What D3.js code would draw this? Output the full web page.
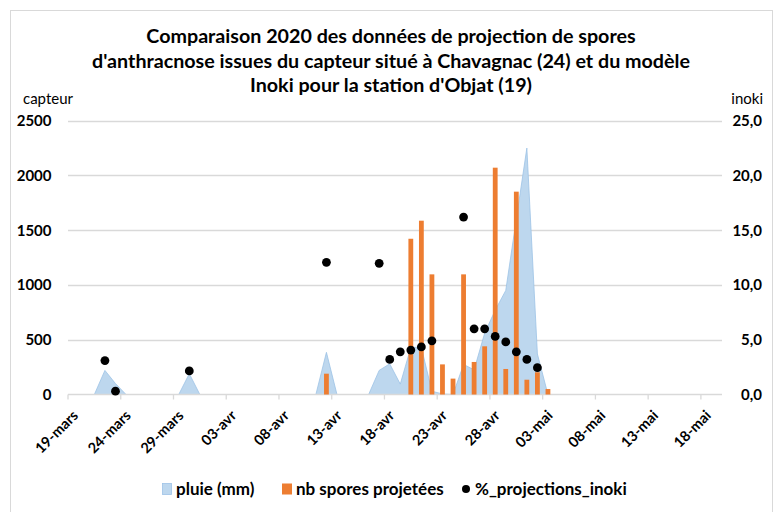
<!DOCTYPE html>
<html>
<head>
<meta charset="utf-8">
<script src="https://cdn.jsdelivr.net/npm/d3@7"></script>
<style>
  body { margin: 0; background: #fff; }
  text { font-family: Lato, "Open Sans", sans-serif; fill: #000; }
</style>
</head>
<body>
<div class="container"></div>
<script>
(function(d3) {
  "use strict";

  var titleLines = [
    "Comparaison 2020 des données de projection de spores",
    "d'anthracnose issues du capteur situé à Chavagnac (24) et du modèle",
    "Inoki pour la station d'Objat (19)"
  ];

  // pluie (mm), one value per day starting 19-mars
  var pluieStart = "2020-03-19";
  var pluieValues = [
    0, 0, 0, 2.2, 1.0, 0, 0, 0, 0, 0,
    0, 1.9, 0, 0, 0, 0, 0, 0, 0, 0,
    0, 0, 0, 0, 3.85, 0, 0, 0, 0, 2.2,
    2.8, 0.95, 4.3, 4.3, 0.3, 0.05, 0, 2.75, 2.25, 5.6,
    7.7, 9.5, 16.0, 22.5, 3.7, 0
  ];

  var sporeDates = [
    "2020-04-12", "2020-04-20", "2020-04-21", "2020-04-22", "2020-04-23",
    "2020-04-24", "2020-04-25", "2020-04-26", "2020-04-27", "2020-04-28",
    "2020-04-29", "2020-04-30", "2020-05-01", "2020-05-02", "2020-05-03"
  ];
  var sporeValues = [190, 1422, 1587, 1097, 275, 145, 1097, 297, 440, 2071, 233, 1852, 135, 203, 50];

  var inokiDates = [
    "2020-03-22", "2020-03-23", "2020-03-30", "2020-04-12", "2020-04-17",
    "2020-04-18", "2020-04-19", "2020-04-20", "2020-04-21", "2020-04-22",
    "2020-04-25", "2020-04-26", "2020-04-27", "2020-04-28", "2020-04-29",
    "2020-04-30", "2020-05-01", "2020-05-02"
  ];
  var inokiValues = [3.1, 0.3, 2.15, 12.07, 11.98, 3.2, 3.9, 4.06, 4.34, 4.9, 16.2, 6.0, 6.0, 5.3, 4.8, 3.9, 3.2, 2.45];

  var xTickLabels = ["19-mars", "24-mars", "29-mars", "03-avr", "08-avr", "13-avr", "18-avr",
                     "23-avr", "28-avr", "03-mai", "08-mai", "13-mai", "18-mai"];
  var leftTicks = [0, 500, 1000, 1500, 2000, 2500];
  var rightTicks = [0, 5, 10, 15, 20, 25];

  var legendItems = ["pluie (mm)", "nb spores projetées", "%_projections_inoki"];

  var width = 779, height = 512;
  var plot = { left: 68, right: 722, top: 120.7, bottom: 394.5 };

  var parse = d3.utcParse("%Y-%m-%d");
  var start = parse("2020-03-19");
  var end = d3.utcDay.offset(start, 62);

  var x = d3.scaleUtc().domain([start, end]).range([plot.left, plot.right]);
  var dayW = x(d3.utcDay.offset(start, 1)) - x(start);
  var yL = d3.scaleLinear().domain([0, 2500]).range([plot.bottom, plot.top]);
  var yR = d3.scaleLinear().domain([0, 25]).range([plot.bottom, plot.top]);

  function center(date) { return x(date) + dayW / 2; }

  var svg = d3.select(".container").append("svg")
      .attr("width", width)
      .attr("height", height);

  svg.append("rect")
      .attr("x", 10.5).attr("y", 10.5)
      .attr("width", 762).attr("height", 520)
      .attr("fill", "#fff")
      .attr("stroke", "#d9d9d9");

  // title, sized so the longest line matches the picture
  var title = svg.append("g").attr("class", "title");
  var titleText = title.selectAll("text")
      .data(titleLines)
    .enter().append("text")
      .attr("x", 391)
      .attr("y", function(d, i) { return 43 + i * 24.5; })
      .attr("text-anchor", "middle")
      .style("font-weight", "bold")
      .style("font-size", "18px")
      .text(function(d) { return d; });
  var w2 = titleText.nodes()[1].getComputedTextLength();
  titleText.style("font-size", (18 * 598 / w2) + "px");

  // grid lines
  svg.append("g")
    .selectAll("line")
      .data(leftTicks.slice(1))
    .enter().append("line")
      .attr("x1", plot.left).attr("x2", plot.right)
      .attr("y1", function(d) { return Math.round(yL(d)) + 0.5; })
      .attr("y2", function(d) { return Math.round(yL(d)) + 0.5; })
      .attr("stroke", "#d9d9d9")
      .attr("stroke-width", 1.3);

  // pluie area
  var pluie = pluieValues.map(function(v, i) {
    return { date: d3.utcDay.offset(parse(pluieStart), i), value: v };
  });
  var area = d3.area()
      .x(function(d) { return center(d.date); })
      .y0(yR(0))
      .y1(function(d) { return yR(d.value); });
  svg.append("path")
      .datum(pluie)
      .attr("d", area)
      .attr("fill", "#bdd7ee")
      .attr("stroke", "#9dc3e6")
      .attr("stroke-width", 0.8);

  // x axis
  var xAxisG = svg.append("g").attr("class", "x-axis");
  xAxisG.append("line")
      .attr("x1", plot.left).attr("x2", plot.right)
      .attr("y1", plot.bottom).attr("y2", plot.bottom)
      .attr("stroke", "#d9d9d9").attr("stroke-width", 1.3);
  var xTicks = xAxisG.selectAll(".tick")
      .data(xTickLabels)
    .enter().append("g")
      .attr("class", "tick")
      .attr("transform", function(d, i) {
        return "translate(" + x(d3.utcDay.offset(start, i * 5)) + "," + plot.bottom + ")";
      });
  xTicks.append("line")
      .attr("y2", 5)
      .attr("stroke", "#d9d9d9").attr("stroke-width", 1.3);
  xTicks.append("text")
      .attr("transform", "translate(11,22) rotate(-45)")
      .attr("text-anchor", "end")
      .style("font-weight", "bold")
      .style("font-size", "14.5px")
      .text(function(d) { return d; });

  // spores bars
  var barW = 4.8;
  svg.append("g")
    .selectAll("rect")
      .data(sporeValues)
    .enter().append("rect")
      .attr("x", function(d, i) { return center(parse(sporeDates[i])) - barW / 2; })
      .attr("y", function(d) { return yL(d); })
      .attr("width", barW)
      .attr("height", function(d) { return yL(0) - yL(d); })
      .attr("fill", "#ed7d31");

  // inoki dots
  svg.append("g")
    .selectAll("circle")
      .data(inokiValues)
    .enter().append("circle")
      .attr("cx", function(d, i) { return center(parse(inokiDates[i])); })
      .attr("cy", function(d) { return yR(d); })
      .attr("r", 4.4)
      .attr("fill", "#000");

  // left axis labels
  svg.append("g")
    .selectAll("text")
      .data(leftTicks)
    .enter().append("text")
      .attr("x", 51.5)
      .attr("y", function(d) { return yL(d); })
      .attr("dy", "0.36em")
      .attr("text-anchor", "end")
      .style("font-weight", "bold")
      .style("font-size", "15px")
      .text(function(d) { return d; });

  // right axis labels
  var frFormat = function(d) { return d.toFixed(1).replace(".", ","); };
  svg.append("g")
    .selectAll("text")
      .data(rightTicks)
    .enter().append("text")
      .attr("x", 762)
      .attr("y", function(d) { return yR(d); })
      .attr("dy", "0.36em")
      .attr("text-anchor", "end")
      .style("font-weight", "bold")
      .style("font-size", "15px")
      .text(frFormat);

  svg.append("text")
      .attr("x", 23).attr("y", 104)
      .style("font-size", "15px")
      .text("capteur");
  svg.append("text")
      .attr("x", 763).attr("y", 104)
      .attr("text-anchor", "end")
      .style("font-size", "15px")
      .text("inoki");

  // legend
  var legendX = [162, 282, 461];
  var legend = svg.append("g").attr("class", "legend")
    .selectAll("g")
      .data(legendItems)
    .enter().append("g")
      .attr("transform", function(d, i) { return "translate(" + legendX[i] + ",489)"; });
  legend.each(function(d, i) {
    var g = d3.select(this);
    if (i === 0) {
      g.append("rect").attr("x", 0.5).attr("y", -5.5).attr("width", 9).attr("height", 11)
          .attr("fill", "#bdd7ee").attr("stroke", "#9dc3e6").attr("stroke-width", 0.8);
    } else if (i === 1) {
      g.append("rect").attr("x", 0).attr("y", -5.5).attr("width", 10).attr("height", 11)
          .attr("fill", "#ed7d31");
    } else {
      g.append("circle").attr("cx", 5).attr("cy", 0).attr("r", 4).attr("fill", "#000");
    }
    g.append("text")
        .attr("x", 14)
        .attr("dy", "0.36em")
        .style("font-weight", "bold")
        .style("font-size", "17px")
        .text(d);
  });

}(d3));
</script>
</body>
</html>
